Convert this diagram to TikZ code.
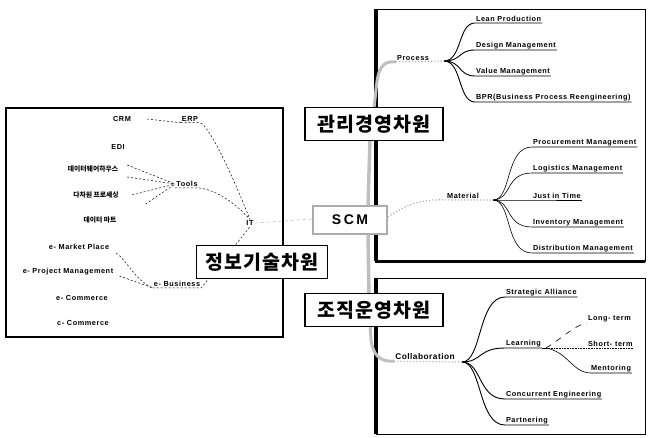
\documentclass[tikz,border=0pt]{standalone}
\usepackage{fontspec}
\setmainfont{Liberation Sans}
\newfontfamily\kr{Noto Sans CJK KR}
\begin{document}
\begin{tikzpicture}[x=1pt,y=-1pt,
  lbl/.style={font=\bfseries\fontsize{7.3}{8}\selectfont\addfontfeature{LetterSpace=8}, inner sep=1pt},
  leaf/.style={lbl, anchor=south west, inner sep=0.8pt},
  krs/.style={font=\kr\bfseries\fontsize{6.8}{8}\selectfont, inner sep=1pt},
  dim/.style={draw, line width=1.2pt, fill=white, inner sep=2pt,
    font=\kr\bfseries\fontsize{19.5}{22}\selectfont\addfontfeature{LetterSpace=5}, minimum height=33pt},
  branch/.style={line width=0.9pt},
  twig/.style={line width=0.6pt},
  hatch/.style={draw=gray!50, line width=3.5pt},
  dots/.style={draw=gray!60, line width=1.2pt, dotted},
  lk/.style={line width=0.5pt, dash pattern=on 2pt off 2pt}]
\useasboundingbox (0,0) rectangle (650,437);
\fill[white] (0,0) rectangle (650,437);

% frames of the three areas
\draw[line width=2.6pt] (6,108) rectangle (283,337);
\draw[line width=1pt] (376,9) rectangle (645,261);
\draw[line width=4pt] (376,9) -- (376,261);
\draw[line width=3pt] (375,261) -- (645,261);
\draw[line width=1pt] (376,278) rectangle (645,434);
\draw[line width=3.5pt] (376,278) -- (376,434);

% ---------------- information technology area
\node[lbl] (crm) at (122,119) {CRM};
\node[lbl] (erp) at (190,119) {ERP};
\node[lbl] (edi) at (118,147) {EDI};
\node[krs] (dw) at (93,169) {데이터웨어하우스};
\node[lbl] (tools) at (187,184) {Tools};
\node[krs] (olap) at (96,195) {다차원 프로세싱};
\node[krs] (mart) at (100,220) {데이터 마트};
\node[lbl] (it) at (250,223) {IT};
\node[lbl] (emp) at (79,247) {e- Market Place};
\node[lbl] (epm) at (68,272) {e- Project Management};
\node[lbl] (ebiz) at (177,284) {e- Business};
\node[lbl] (ecom) at (82,298) {e- Commerce};
\node[lbl] (ccom) at (83,323) {c- Commerce};

\draw[lk] (crm.east) ++(15,0) -- (erp.south west);
\draw[lk] (erp.south west) -- (erp.south east) .. controls (205,122) and (222,150) .. (it.north);
\draw[lk] (dw.east) ++(8,-4) -- (tools.west);
\draw[lk] (dw.east) ++(8,8) -- (tools.west);
\draw[lk] (olap.east) ++(12,0) -- (tools.west);
\draw[lk] (mart.east) ++(28,-16) -- (tools.west);
\draw[lk] (tools.south west) -- (tools.south east) .. controls (215,190) and (232,200) .. (it.north);
\draw[lk] (emp.east) ++(6,6) .. controls (128,262) and (135,280) .. (ebiz.south west);
\draw[lk] (epm.east) ++(5,4) -- (ebiz.south west);
\draw[lk] (ebiz.south west) -- (ebiz.south east) -- (it.south);
\draw[draw=gray!60, line width=0.5pt, dash pattern=on 3pt off 3pt] (it.east) -- (312,219);

% ---------------- management area
\node[lbl] (proc) at (413,58) {Process};
\coordinate (pb) at (444,61);
\node[leaf] (lean) at (475,23) {Lean Production};
\node[leaf] (design) at (475,50) {Design Management};
\node[leaf] (value) at (475,76) {Value Management};
\node[leaf] (bpr) at (475,102) {BPR(Business Process Reengineering)};
\foreach \n in {lean,design,value,bpr}
  \draw[branch] (pb) .. controls (462,61) and (458,0 |- \n.south west) .. (\n.south west)
    -- (\n.south east);

\node[lbl] (mat) at (463,196) {Material};
\coordinate (mb) at (493,200);
\node[leaf] (proc2) at (532,147) {Procurement Management};
\node[leaf] (logi) at (532,173) {Logistics Management};
\node[leaf] (jit) at (532,200) {Just in Time};
\node[leaf] (inv) at (532,227) {Inventory Management};
\node[leaf] (dist) at (532,253) {Distribution Management};
\foreach \n in {proc2,logi,inv,dist}
  \draw[twig] (mb) .. controls (512,200) and (505,0 |- \n.south west) .. (\n.south west)
    -- (\n.south east);
\draw[twig] (mb) -- (jit.south west) -- (jit.south east);

% ---------------- organisation area
\node[lbl, font=\bfseries\fontsize{8.3}{9}\selectfont\addfontfeature{LetterSpace=6}] (coll) at (425,357) {Collaboration};
\coordinate (cb) at (462,362);
\node[leaf] (sa) at (505,297) {Strategic Alliance};
\node[leaf] (learn) at (505,348) {Learning};
\node[leaf] (ce) at (505,399) {Concurrent Engineering};
\node[leaf] (part) at (505,425) {Partnering};
\foreach \n in {sa,learn,ce,part}
  \draw[branch] (cb) .. controls (482,362) and (478,0 |- \n.south west) .. (\n.south west)
    -- (\n.south east);
\coordinate (lb) at (546,348);
\node[leaf] (long) at (587,323) {Long- term};
\node[leaf] (short) at (587,348) {Short- term};
\node[leaf] (ment) at (590,373) {Mentoring};
\draw[twig] (learn.south east) -- (lb);
\draw[twig, dash pattern=on 6pt off 6pt] (lb) .. controls (565,336) and (575,325) .. (long.south west);
\draw[twig, densely dotted] (lb) -- (short.south west) -- (short.south east);
\draw[twig] (lb) .. controls (568,352) and (572,372) .. (ment.south west) -- (ment.south east);

% ---------------- connectors from the centre
\draw[hatch] (368,207) -- (370,140);
\draw[hatch, line width=3pt] (374,108) -- (376,90) .. controls (378,68) and (382,61) .. (proc.south west);
\draw[dots] (proc.south west) -- (pb);
\draw[hatch] (368,233) -- (369,300);
\draw[hatch, line width=3pt] (370,322) -- (371,340) .. controls (373,355) and (380,362) .. (coll.south west);
\draw[dots] (coll.south west) -- (cb);
\draw[dots] (388,217) .. controls (405,205) and (420,199) .. (mat.south west) -- (mb);

% ---------------- dimension labels
\node[dim, minimum width=138pt] (mgmt) at (374,124) {관리경영차원};
\node[dim, minimum width=131pt] (itd) at (262,262) {정보기술차원};
\node[dim, minimum width=138pt] (org) at (374,310) {조직운영차원};
\node[draw=gray!65, line width=2.5pt, fill=white, minimum width=74pt, minimum height=28pt,
  font=\bfseries\fontsize{14}{16}\selectfont\addfontfeature{LetterSpace=18}] (scm) at (350,220) {SCM};
\end{tikzpicture}
\end{document}
